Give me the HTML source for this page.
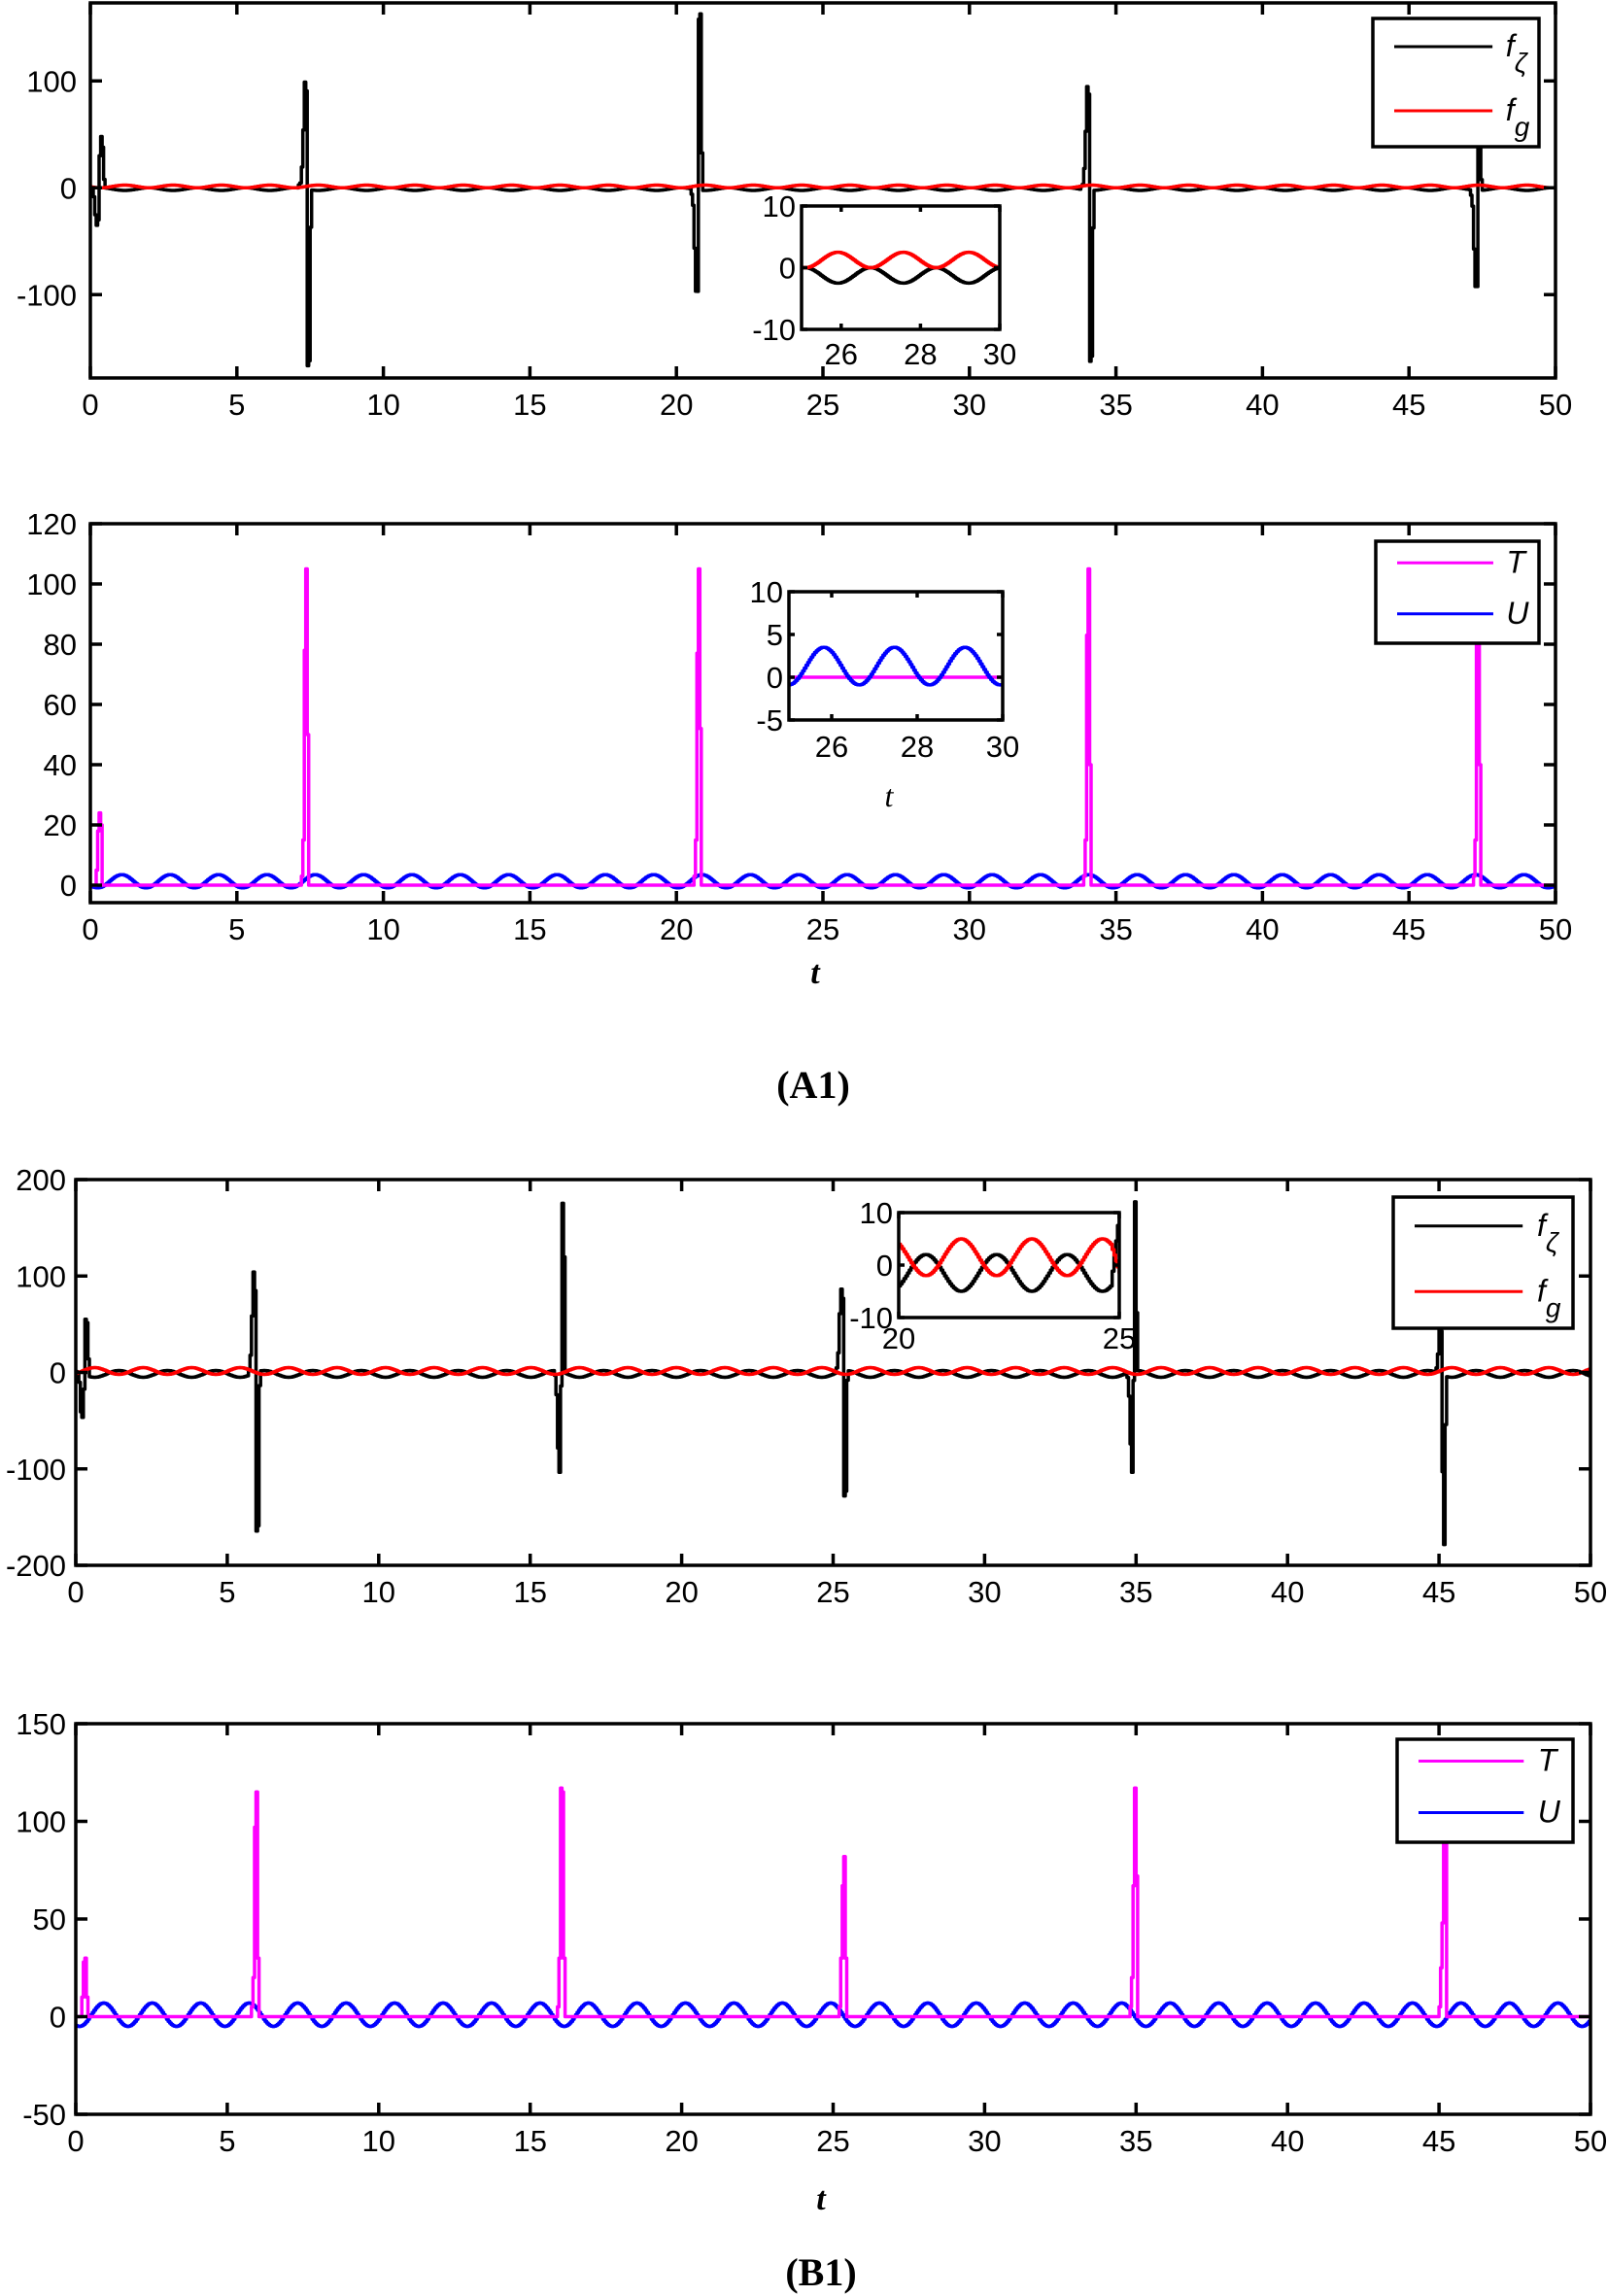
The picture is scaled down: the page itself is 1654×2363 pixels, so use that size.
<!DOCTYPE html>
<html><head><meta charset="utf-8"><style>
html,body{margin:0;padding:0;background:#fff;}
svg{display:block;}
text{font-family:"Liberation Sans",Arial,sans-serif;}
</style></head><body>
<svg id="s" width="1654" height="2363" viewBox="0 0 1654 2363" xmlns="http://www.w3.org/2000/svg">
<rect width="1654" height="2363" fill="#fff"/>
<text x="839" y="1012" font-weight="bold" font-style="italic" font-size="34" text-anchor="middle" style="font-family:'Liberation Serif',serif">t</text>
<text x="837" y="1130" font-weight="bold" font-size="40" text-anchor="middle" style="font-family:'Liberation Serif',serif">(A1)</text>
<text x="845" y="2274" font-weight="bold" font-style="italic" font-size="34" text-anchor="middle" style="font-family:'Liberation Serif',serif">t</text>
<text x="845" y="2352" font-weight="bold" font-size="40" text-anchor="middle" style="font-family:'Liberation Serif',serif">(B1)</text>
<text x="915" y="830" font-style="italic" font-size="32" text-anchor="middle" style="font-family:'Liberation Serif',serif">t</text>
</svg>
<script>
const NS='http://www.w3.org/2000/svg';
const svg=document.getElementById('s');
function el(tag,a,p){const e=document.createElementNS(NS,tag);for(const k in a)e.setAttribute(k,a[k]);(p||svg).appendChild(e);return e;}
function txt(x,y,s,size,anchor,p){const t=el('text',{x:x,y:y,'font-size':size,'text-anchor':anchor||'middle'},p);t.textContent=s;return t;}
let clipN=0;
function panel(P,bg){
  if(bg)el('rect',{x:P.x0,y:P.y0,width:P.x1-P.x0,height:P.y1-P.y0,fill:'#fff'});
  P.sx=t=>P.x0+(t-P.t0)/(P.t1-P.t0)*(P.x1-P.x0);
  P.sy=v=>P.y1-(v-P.v0)/(P.v1-P.v0)*(P.y1-P.y0);
  const id='c'+(clipN++);
  const cp=el('clipPath',{id:id});el('rect',{x:P.x0,y:P.y0,width:P.x1-P.x0,height:P.y1-P.y0},cp);
  P.g=el('g',{'clip-path':'url(#'+id+')'});
  return P;
}
function frame(P,xt,yt,tl,fs,xlabOff,ylabOff){
  const g=el('g',{});
  el('rect',{x:P.x0,y:P.y0,width:P.x1-P.x0,height:P.y1-P.y0,fill:'none',stroke:'#000','stroke-width':3.5},g);
  xt.forEach(t=>{const x=P.sx(t);
    el('line',{x1:x,y1:P.y1,x2:x,y2:P.y1-tl,stroke:'#000','stroke-width':3.5},g);
    el('line',{x1:x,y1:P.y0,x2:x,y2:P.y0+tl,stroke:'#000','stroke-width':3.5},g);
    txt(x,P.y1+xlabOff,String(t),fs,'middle',g);});
  yt.forEach(v=>{const y=P.sy(v);
    el('line',{x1:P.x0,y1:y,x2:P.x0+tl,y2:y,stroke:'#000','stroke-width':3.5},g);
    el('line',{x1:P.x1,y1:y,x2:P.x1-tl,y2:y,stroke:'#000','stroke-width':3.5},g);
    txt(P.x0-ylabOff,y+fs*0.36,String(v),fs,'end',g);});
}
function series(P,f,color,w,dt){
  dt=dt||0.05;let d='';
  for(let t=P.t0;t<P.t1+dt;t+=dt){const v=f(t);const y=P.sy(v).toFixed(1);
    d+=(d?'L':'M')+P.sx(t).toFixed(1)+' '+y+'L'+P.sx(t+dt).toFixed(1)+' '+y;}
  el('path',{d:d,fill:'none',stroke:color,'stroke-width':w,'stroke-linejoin':'round'},P.g);
}
function spikes(list){return t=>{for(const s of list){const i=Math.floor((t-s[0])/0.05+1e-6);if(i>=0&&i<s[1].length)return s[1][i];}return null;}}
function combine(base,sp){return t=>{const v=sp(t);return v===null?base(t):base(t)+v;};}
const TAU=2*Math.PI;
const XT=[0,5,10,15,20,25,30,35,40,45,50];
// A1 top
const a1b=t=>-1.25*(1+Math.cos(TAU*(t-25.9)/1.65));
const a1s=spikes([[0.1,[-8,-25,-35,-30,30,48,38,8]],[7.1,[3,5,20,55,100,92,-165,-160,-35,0]],[20.5,[-5,-15,-55,-95,-95,160,165,35,0]],[33.8,[3,5,20,55,97,90,-160,-155,-35,0]],[47.1,[-5,-15,-55,-90,-90,55,58,10]]]);
let P=panel({x0:93,x1:1601,y0:3,y1:389,t0:0,t1:50,v0:-178,v1:173});
series(P,combine(a1b,a1s),'#000',3.5);series(P,t=>-a1b(t),'#f00',3.5);
frame(P,XT,[-100,0,100],12,31,38,14);
let I=panel({x0:825,x1:1029,y0:212,y1:339,t0:25,t1:30,v0:-10,v1:10},true);
series(I,a1b,'#000',3.5,0.04);series(I,t=>-a1b(t),'#f00',3.5,0.04);
frame(I,[26,28,30],[-10,0,10],6,31,36,6);
// A1 bottom
const Ub=t=>1.3+2.2*Math.cos(TAU*(t-25.8)/1.65);
const Ts=spikes([[0.2,[5,18,24,20,0]],[7.2,[3,15,78,105,50,0]],[20.6,[3,15,77,105,52,0]],[33.9,[3,15,83,105,40,0]],[47.2,[3,15,80,100,40,0]]]);
P=panel({x0:93,x1:1601,y0:539,y1:929,t0:0,t1:50,v0:-5.8,v1:120});
series(P,Ub,'#00f',3.5);series(P,t=>{const v=Ts(t);return v===null?0:v;},'#f0f',3.5);
frame(P,XT,[0,20,40,60,80,100,120],12,31,38,14);
I=panel({x0:812,x1:1032,y0:609,y1:741,t0:25,t1:30,v0:-5,v1:10},true);
series(I,t=>0,'#f0f',3.5,0.04);series(I,Ub,'#00f',3.5,0.04);
frame(I,[26,28,30],[-5,0,5,10],6,31,38,6);
// B1 top
const b1b=t=>-1.5+3.5*Math.cos(TAU*(t-20.6)/1.6);
const b1s=spikes([[0.1,[-10,-40,-45,-15,58,55,18,0]],[5.7,[5,20,60,105,85,-165,-160,-15,0]],[15.8,[-5,-25,-80,-105,-15,175,120,0]],[25.1,[5,20,60,85,75,-130,-125,-10,0]],[34.7,[-5,-25,-75,-105,-10,175,60,0]],[44.9,[5,20,50,45,-100,-175,-50,0]]]);
P=panel({x0:78,x1:1637,y0:1214,y1:1611,t0:0,t1:50,v0:-200,v1:200});
series(P,combine(b1b,b1s),'#000',3.5);series(P,t=>-b1b(t),'#f00',3.5);
frame(P,XT,[-200,-100,0,100,200],12,31,38,10);
I=panel({x0:925,x1:1152,y0:1248,y1:1356,t0:20,t1:25,v0:-10,v1:10},true);
series(I,t=>t>24.8?b1b(t)+(t-24.8)*60:b1b(t),'#000',3.5,0.04);series(I,t=>t>24.8?-b1b(t)-(t-24.8)*15:-b1b(t),'#f00',3.5,0.04);
frame(I,[20,25],[-10,0,10],6,31,32,6);
// B1 bottom
const U2=t=>1+6*Math.cos(TAU*(t-21.7)/1.6);
const T2=spikes([[0.2,[10,28,30,10,0]],[5.8,[5,20,97,115,30,0]],[15.9,[5,30,117,115,30,0]],[25.2,[5,30,67,82,30,0]],[34.8,[5,20,67,117,72,0]],[45.0,[5,25,48,90,90,0]]]);
P=panel({x0:78,x1:1637,y0:1774,y1:2176,t0:0,t1:50,v0:-50,v1:150});
series(P,U2,'#00f',3.5);series(P,t=>{const v=T2(t);return v===null?0:v;},'#f0f',3.5);
frame(P,XT,[-50,0,50,100,150],12,31,38,10);
// legends
function legend(x0,y0,x1,y1,items){
  el('rect',{x:x0,y:y0,width:x1-x0,height:y1-y0,fill:'#fff',stroke:'#000','stroke-width':3.5});
  const n=items.length,h=(y1-y0)/n;
  items.forEach((it,i)=>{const y=y0+h*(i+0.5)-4;
    el('line',{x1:x0+22,y1:y,x2:x0+(x1-x0)*0.72,y2:y,stroke:it[0],'stroke-width':3});
    const t=el('text',{x:x0+(x1-x0)*0.80,y:y+10,'font-size':32,'font-style':'italic'});
    t.textContent=it[1];
    if(it[2]){const s=el('tspan',{dy:16,'font-size':28},t);s.textContent=it[2];}
  });
}
legend(1413,19,1584,151,[['#000','f','ζ'],['#f00','f','g']]);
legend(1416,557,1584,662,[['#f0f','T'],['#00f','U']]);
legend(1434,1232,1619,1367,[['#000','f','ζ'],['#f00','f','g']]);
legend(1438,1790,1619,1896,[['#f0f','T'],['#00f','U']]);
</script>
</body></html>
